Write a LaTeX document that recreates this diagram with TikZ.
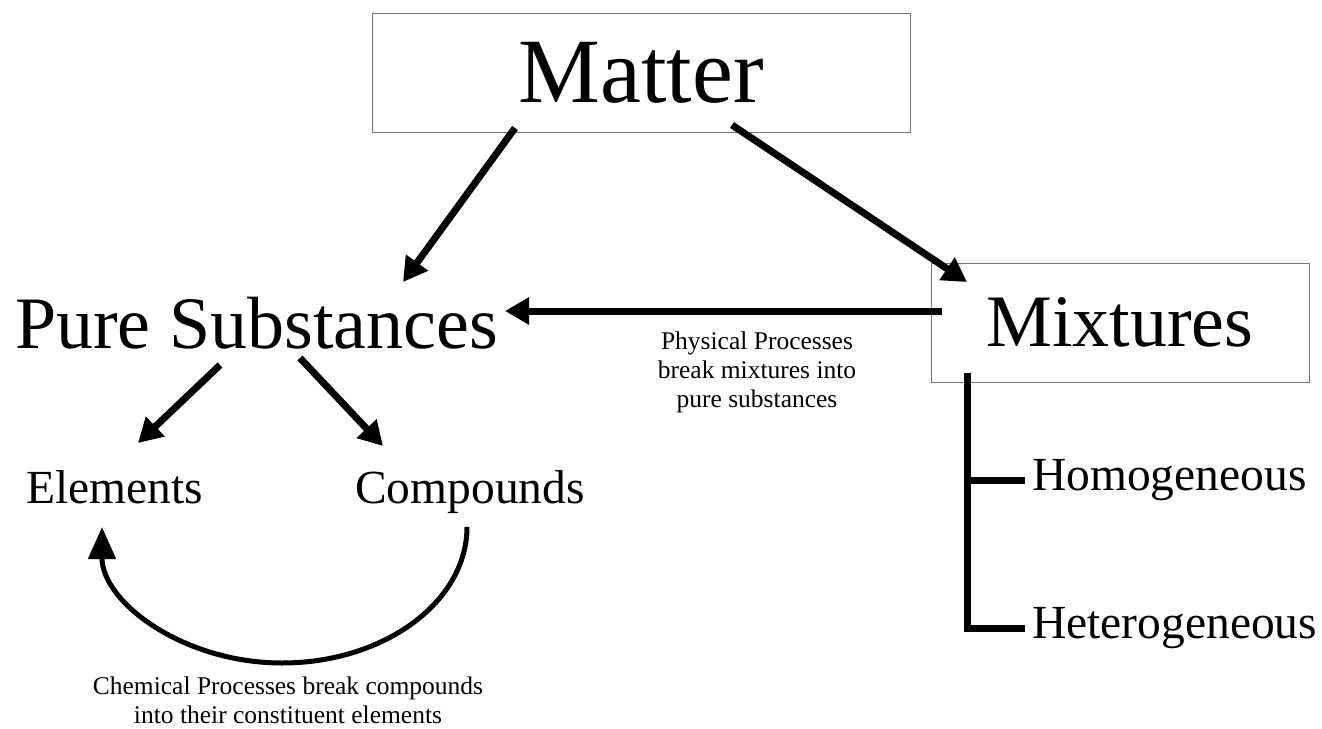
\documentclass[tikz,border=0pt]{standalone}
\usepackage{fontspec}
\setmainfont{Liberation Serif}
\usetikzlibrary{arrows.meta}

\begin{document}
\begin{tikzpicture}[x=1pt,y=-1pt,
	frame/.style={draw=black!55,line width=1pt,inner sep=0pt,minimum height=119pt},
	head/.style={-{Triangle[length=24pt,width=26pt]},line width=7pt},
	loopline/.style={-{Triangle[length=32pt,width=27pt]},line width=5pt},
	rail/.style={line width=7pt},
	leaf/.style={inner sep=0pt,font=\fontsize{47.5}{47.5}\selectfont},
	note/.style={align=center,inner sep=0pt,font=\fontsize{25.5}{29}\selectfont}]
	\useasboundingbox (0,0) rectangle (1322,728);
	\node[frame,minimum width=538pt,font=\fontsize{92}{92}\selectfont] (mat) at (641,72.5) {Matter};
	\node[anchor=base west,inner sep=0pt,font=\fontsize{74}{74}\selectfont] (pure) at (15,348) {Pure Substances};
	\node[frame,minimum width=378pt,font=\fontsize{74}{74}\selectfont] (mix) at (1120,322.5) {Mixtures};
	\node[leaf,anchor=base west] (elm) at (26,503) {Elements};
	\node[leaf,anchor=base west] (cmp) at (355,503) {Compounds};
	\node[leaf,inner xsep=7pt,anchor=west] (hom) at (1025,480) {Homogeneous};
	\node[leaf,inner xsep=7pt,anchor=west] (het) at (1025,628) {Heterogeneous};
	\node[note] (phys) at (757,372) {Physical Processes\\break mixtures into\\pure substances};
	\node[note] (chem) at (288,700) {Chemical Processes break compounds\\into their constituent elements};
	\coordinate (mat-l) at (515,128);
	\coordinate (mat-r) at (732,125);
	\coordinate (pure-t) at (403,282);
	\coordinate (mix-t) at (967,282);
	\coordinate (mix-l) at (942,311);
	\coordinate (pure-r) at (505,311);
	\coordinate (pure-bl) at (220,365);
	\coordinate (pure-br) at (300,358);
	\coordinate (elm-t) at (138,443);
	\coordinate (cmp-t) at (383,446);
	\coordinate (cmp-b) at (467,527);
	\coordinate (elm-b) at (102,527);
	\coordinate (mix-b) at (967,373);
	\draw
	(mat-l) edge[head] (pure-t)
	(mat-r) edge[head] (mix-t)
	(mix-l) edge[head] (pure-r)
	(pure-bl) edge[head] (elm-t)
	(pure-br) edge[head] (cmp-t);
	\draw[loopline] (cmp-b) .. controls (467,602) and (384,663) .. (282,663)
		.. controls (183,663) and (102,602) .. (elm-b);
	\draw[rail] (mix-b) |- (het.west);
	\draw[rail] (mix-b |- hom.west) -- (hom.west);
\end{tikzpicture}
\end{document}
